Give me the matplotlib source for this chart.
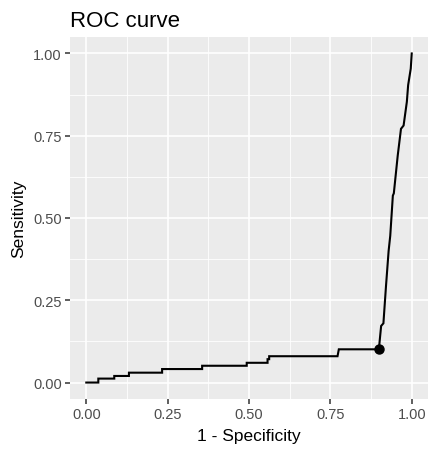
import numpy as np
import matplotlib
matplotlib.use("Agg")
import matplotlib.pyplot as plt

plt.rcParams['font.family'] = ['Liberation Sans', 'DejaVu Sans']

# ROC path (1 - specificity, sensitivity)
fpr = [0.0, 0.037, 0.037, 0.086, 0.086, 0.131, 0.131, 0.233, 0.233, 0.356,
       0.356, 0.493, 0.493, 0.557, 0.557, 0.562, 0.562, 0.772, 0.776, 0.899,
       0.906, 0.913, 0.921, 0.929, 0.934, 0.942, 0.945, 0.957, 0.967, 0.975,
       0.985, 0.989, 0.997, 1.0]
sens = [0.0, 0.0, 0.012, 0.012, 0.020, 0.020, 0.030, 0.030, 0.041, 0.041,
        0.051, 0.051, 0.060, 0.060, 0.071, 0.071, 0.080, 0.080, 0.101, 0.101,
        0.172, 0.180, 0.294, 0.400, 0.446, 0.568, 0.575, 0.690, 0.771, 0.781,
        0.853, 0.904, 0.954, 1.0]
best_point = (0.899, 0.101)
ticks = [0.0, 0.25, 0.5, 0.75, 1.0]
tick_labels = ["0.00", "0.25", "0.50", "0.75", "1.00"]

fig = plt.figure(figsize=(4.3, 4.52), dpi=100)
ax = fig.add_axes([70 / 430, 1 - 400 / 452, 358 / 430, 362 / 452])

ax.set_facecolor("#EBEBEB")
for s in ax.spines.values():
    s.set_visible(False)

ax.set_xlim(-0.05, 1.05)
ax.set_ylim(-0.05, 1.05)
ax.set_xticks(ticks)
ax.set_yticks(ticks)
ax.set_xticklabels(tick_labels)
ax.set_yticklabels(tick_labels)
ax.set_xticks([0.125, 0.375, 0.625, 0.875], minor=True)
ax.set_yticks([0.125, 0.375, 0.625, 0.875], minor=True)
ax.grid(which="major", color="white", linewidth=1.2)
ax.grid(which="minor", color="white", linewidth=0.6)
ax.set_axisbelow(True)
ax.tick_params(which="major", length=3.5, width=1.1, color="#333333",
               labelcolor="#4D4D4D", labelsize=10.5, pad=2.5)
ax.tick_params(which="minor", length=0)

ax.plot(fpr, sens, color="black", linewidth=1.5, solid_joinstyle="miter")
ax.plot([best_point[0]], [best_point[1]], "o", color="black", markersize=6.5)

ax.set_xlabel("1 - Specificity", fontsize=12.5, labelpad=5)
ax.set_ylabel("Sensitivity", fontsize=12.5, labelpad=5)
ax.set_title("ROC curve", fontsize=16, loc="left", pad=8)

fig.savefig("out.png", dpi=100)
